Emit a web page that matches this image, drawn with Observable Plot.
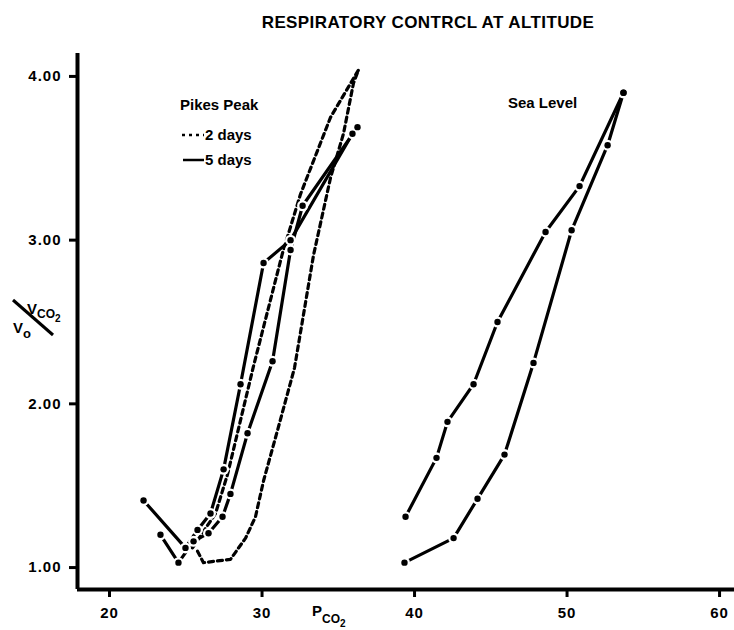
<!DOCTYPE html>
<html><head><meta charset="utf-8">
<script src="https://cdn.jsdelivr.net/npm/d3@7"></script>
<script src="https://cdn.jsdelivr.net/npm/@observablehq/plot@0.6"></script>
<style>body{margin:0;background:#fff;} svg{display:block}</style>
</head><body><div id="chart"></div>
<script>
// ---- data ----
const title = "RESPIRATORY CONTRCL AT ALTITUDE";
const xTicks = [20, 30, 40, 50, 60];
const yTicks = [1, 2, 3, 4];

// Pikes Peak, 5 days (solid with points)
const pp5a_x = [22.23, 24.98, 25.77, 26.62, 27.48, 28.59, 30.10, 31.87, 35.93];
const pp5a_y = [1.41, 1.12, 1.23, 1.33, 1.60, 2.12, 2.86, 3.00, 3.65];
const pp5b_x = [23.34, 24.52, 25.51, 26.49, 27.41, 27.93, 29.05, 30.69, 31.87, 32.66, 36.26];
const pp5b_y = [1.20, 1.03, 1.16, 1.21, 1.31, 1.45, 1.82, 2.26, 2.94, 3.21, 3.69];

// Pikes Peak, 2 days (short dashes)
const pp2a_x = [25.44, 26.95, 27.74, 29.44, 31.34, 32.52, 34.49, 36.33];
const pp2a_y = [1.12, 1.33, 1.57, 2.23, 2.92, 3.28, 3.75, 4.04];
const pp2b_x = [25.77, 26.16, 27.93, 28.92, 29.57, 30.10, 31.08, 32.13, 33.38, 34.49, 35.34, 36.00, 36.33];
const pp2b_y = [1.10, 1.03, 1.05, 1.18, 1.31, 1.53, 1.86, 2.22, 2.91, 3.38, 3.65, 3.96, 4.04];

// Sea level (solid with points)
const sla_x = [39.41, 41.44, 42.16, 43.87, 45.44, 48.59, 50.82, 53.70];
const sla_y = [1.31, 1.67, 1.89, 2.12, 2.50, 3.05, 3.33, 3.90];
const slb_x = [39.34, 42.56, 44.13, 45.90, 47.80, 50.30, 52.66, 53.70];
const slb_y = [1.03, 1.18, 1.42, 1.69, 2.25, 3.06, 3.58, 3.90];

// ---- build tables ----
function rows(name, xs, ys) { return xs.map((x, i) => ({series: name, x, y: ys[i]})); }
const solidRows = [
  ...rows("pp5a", pp5a_x, pp5a_y),
  ...rows("pp5b", pp5b_x, pp5b_y),
  ...rows("sla", sla_x, sla_y),
  ...rows("slb", slb_x, slb_y)
];
const dashRows = [
  ...rows("pp2a", pp2a_x, pp2a_y),
  ...rows("pp2b", pp2b_x, pp2b_y)
];

const FONT = "'Liberation Sans', Arial, Helvetica, sans-serif";
const xDomain = [17.9, 60.98];
const yDomain = [0.866, 4.14];

const plot = Plot.plot({
  width: 734, height: 630,
  marginLeft: 77, marginRight: 0, marginTop: 53, marginBottom: 41,
  x: {domain: xDomain},
  y: {domain: yDomain},
  style: {fontFamily: FONT, fontWeight: "bold", background: "white", color: "black"},
  marks: [
    Plot.line(dashRows, {x: "x", y: "y", z: "series", stroke: "black", strokeWidth: 3.2, strokeDasharray: "5,4"}),
    Plot.line(solidRows, {x: "x", y: "y", z: "series", stroke: "black", strokeWidth: 3.2}),
    Plot.dot(solidRows, {x: "x", y: "y", r: 5.5, fill: "white", stroke: "none"}),
    Plot.dot(solidRows, {x: "x", y: "y", r: 3.2, fill: "black", stroke: "none"}),
    Plot.ruleX([xDomain[0]], {stroke: "black", strokeWidth: 4}),
    Plot.ruleY([yDomain[0]], {stroke: "black", strokeWidth: 4}),
    Plot.axisX({ticks: xTicks, tickSize: 8, tickPadding: 10, fontSize: 15, strokeWidth: 3, label: null, tickFormat: d => String(d)}),
    Plot.axisY({ticks: yTicks, tickSize: 8, tickPadding: 8, fontSize: 15, strokeWidth: 3, label: null, tickFormat: d3.format(".2f")})
  ]
});

const svg = d3.select(plot);
svg.selectAll("g[aria-label='x-axis tick label'] text, g[aria-label='y-axis tick label'] text")
   .style("letter-spacing", "1px");

const g = svg.append("g").attr("font-family", FONT).attr("font-weight", "bold")
  .attr("fill", "black").attr("text-anchor", "start");

// title
g.append("text").attr("x", 428).attr("y", 28).attr("text-anchor", "middle")
  .attr("font-size", 17).style("letter-spacing", "0.4px").text(title);

// legend
g.append("text").attr("x", 180).attr("y", 110).attr("font-size", 15).text("Pikes Peak");
g.append("line").attr("x1", 182).attr("x2", 204).attr("y1", 135).attr("y2", 135)
  .attr("stroke", "black").attr("stroke-width", 2.5).attr("stroke-dasharray", "3,4");
g.append("text").attr("x", 205).attr("y", 140).attr("font-size", 15).text("2 days");
g.append("line").attr("x1", 183).attr("x2", 204).attr("y1", 160).attr("y2", 160)
  .attr("stroke", "black").attr("stroke-width", 2.5);
g.append("text").attr("x", 205).attr("y", 165).attr("font-size", 15).text("5 days");

// Sea level label
g.append("text").attr("x", 508).attr("y", 108).attr("font-size", 15).text("Sea Level");

// y-axis label: V_CO2 / V_o
const yl = g.append("text").attr("x", 27).attr("y", 314).attr("font-size", 15);
yl.append("tspan").text("V");
yl.append("tspan").attr("font-size", 12).attr("dy", 4).text("CO");
yl.append("tspan").attr("font-size", 10).attr("dy", 4).text("2");
g.append("line").attr("x1", 13).attr("y1", 300).attr("x2", 53).attr("y2", 335)
  .attr("stroke", "black").attr("stroke-width", 3);
const yl2 = g.append("text").attr("x", 13).attr("y", 333).attr("font-size", 15);
yl2.append("tspan").text("V");
yl2.append("tspan").attr("font-size", 13).attr("dy", 5).text("o");

// x-axis label: P_CO2
const xl = g.append("text").attr("x", 312).attr("y", 616).attr("font-size", 15);
xl.append("tspan").text("P");
xl.append("tspan").attr("font-size", 12).attr("dy", 7).text("CO");
xl.append("tspan").attr("font-size", 10).attr("dy", 4).text("2");

document.getElementById("chart").appendChild(plot);
</script>
</body></html>
